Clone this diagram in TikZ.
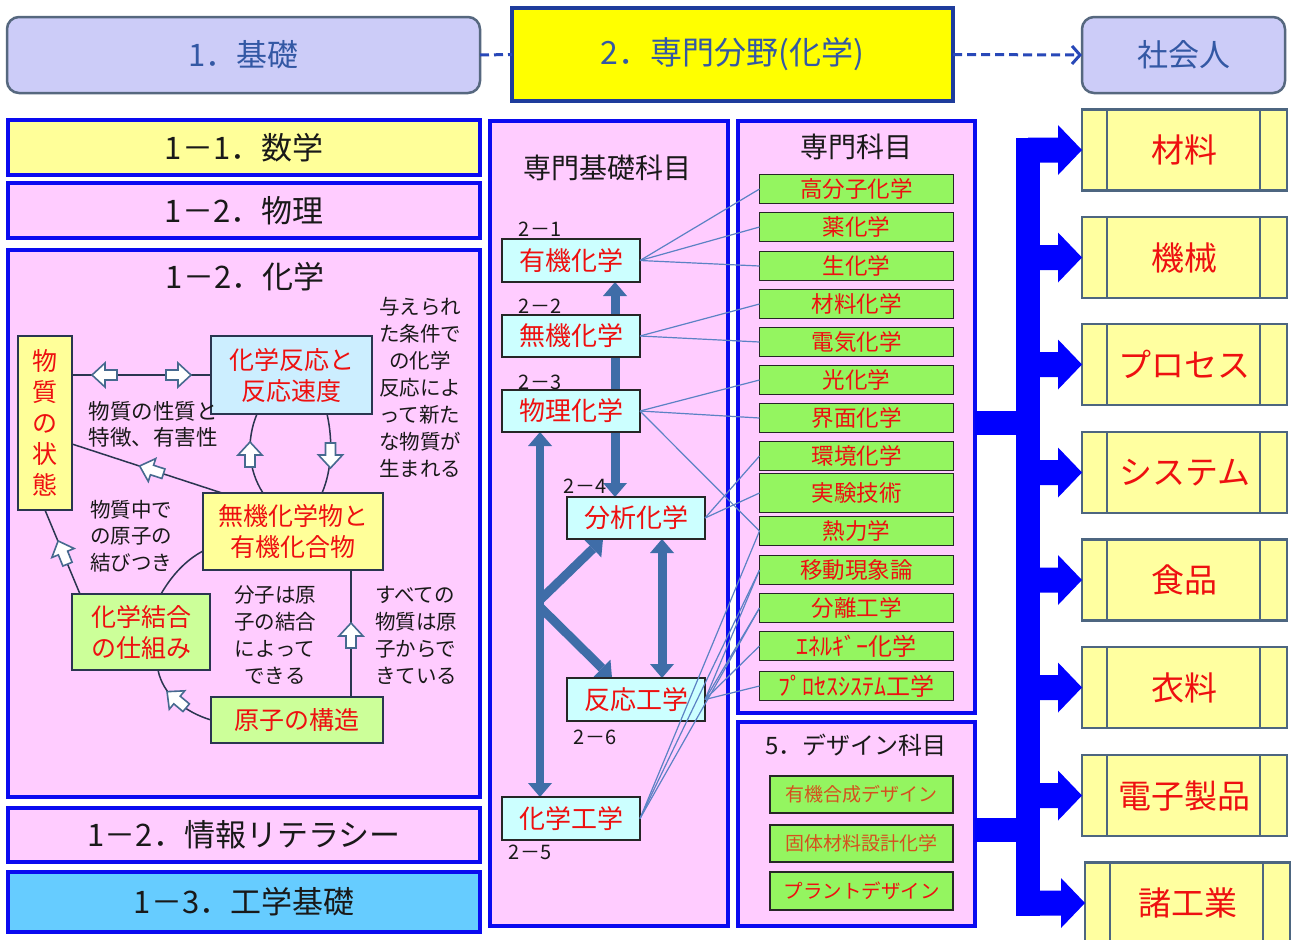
\documentclass[tikz,border=0pt]{standalone}
\usepackage{fontspec}
\setmainfont{Noto Sans CJK JP}
\usetikzlibrary{arrows.meta}
\definecolor{pinkf}{HTML}{FFCCFF}
\definecolor{ylite}{HTML}{FFFF99}
\definecolor{ybright}{HTML}{FFFF00}
\definecolor{lav}{HTML}{CCCCF8}
\definecolor{skyb}{HTML}{66CCFF}
\definecolor{bordb}{HTML}{0A0AF0}
\definecolor{navyb}{HTML}{1E3C9C}
\definecolor{hdrtxt}{HTML}{3358A4}
\definecolor{hdrbd}{HTML}{56687F}
\definecolor{cyanf}{HTML}{CCFFFF}
\definecolor{cyanf2}{HTML}{CCEEFF}
\definecolor{limef}{HTML}{94F560}
\definecolor{palegreen}{HTML}{CCFF99}
\definecolor{steel}{HTML}{3F6DA8}
\definecolor{thinl}{HTML}{5B82C4}
\definecolor{txtred}{HTML}{EE1010}
\definecolor{darkbd}{HTML}{2A3550}
\definecolor{arrbd}{HTML}{46698F}
\definecolor{ybd}{HTML}{4D6680}
\definecolor{dredtxt}{HTML}{D5501E}
\definecolor{bigb}{HTML}{0000FF}
\definecolor{dashb}{HTML}{2848B8}
\definecolor{ytile}{HTML}{FFFFA0}
\newcommand{\fsz}[2]{\fontsize{#1}{#2}\selectfont}
\pgfdeclarelayer{back}
\pgfdeclarelayer{mid}
\pgfsetlayers{back,mid,main}
\tikzset{
  barr/.pic={\draw[line width=1.6pt, draw=arrbd, fill=white, line join=miter]
     (-12,-5) -- (0,-5) -- (0,-12) -- (13,0) -- (0,12) -- (0,5) -- (-12,5) -- cycle;},
  bigarrow/.pic={\fill[bigb] (-54,-12.5) -- (-24,-12.5) -- (-24,-25) -- (0,0)
     -- (-24,25) -- (-24,12.5) -- (-54,12.5) -- cycle;}
}
\begin{document}
\begin{tikzpicture}[x=1pt,y=-1pt,
  every node/.style={inner sep=0pt, outer sep=0pt},
  sz/.style 2 args={minimum width=#1, minimum height=#2},
  hdr/.style={draw=hdrbd, line width=2.5pt, fill=lav, rounded corners=12pt, text=hdrtxt, font=\fsz{31}{34}},
  bluebox/.style={draw=bordb, line width=4pt, font=\fsz{31}{34}, text=black!90},
  chbox/.style={draw=darkbd, line width=1.5pt, text=txtred, font=\fsz{25}{31}, align=center},
  note/.style={font=\fsz{20.5}{27}, text=black!90},
  cybox/.style={draw=black!85, line width=1.5pt, fill=cyanf, text=txtred, font=\fsz{26}{30}, sz={138}{43}},
  lbl/.style={font=\fsz{20}{22}, text=black!90},
  gbox/.style={draw=black!85, line width=1.8pt, fill=limef, text=txtred, font=\fsz{22.5}{24}},
  ybox/.style={draw=ybd, line width=2.5pt, fill=ytile, text=txtred, font=\fsz{33}{36}, sz={205}{81}},
  chl/.style={draw=darkbd, line width=1.5pt},
  dashln/.style={draw=dashb, line width=3pt, dash pattern=on 9pt off 5pt},
  tarr/.style={draw=steel, line width=9pt},
  dbl/.style={{Triangle[length=14pt,width=24pt,line width=0pt]}-{Triangle[length=14pt,width=24pt,line width=0pt]}},
  sgl/.style={-{Triangle[length=14pt,width=24pt,line width=0pt]}},
  thinln/.style={draw=thinl, line width=1.2pt}
]
\useasboundingbox (0,0) rectangle (1291,940);

\begin{pgfonlayer}{back}
\fill[white] (0,0) rectangle (1291,940);
\node[bluebox, fill=pinkf, sz={472}{547}] (kagaku) at (244,523.5) {};
\node[bluebox, fill=pinkf, sz={238}{805}] (kb) at (609,523.5) {};
\node[bluebox, fill=pinkf, sz={237}{592}] (sm) at (856.5,417) {};
\node[bluebox, fill=pinkf, sz={237}{204}] (dz) at (856.5,824) {};
\end{pgfonlayer}

% ---------- top row ----------
\node[hdr, sz={473}{76}] (kiso) at (243.5,55) {1．基礎};
\node[draw=navyb, line width=4pt, fill=ybright, sz={441}{93}, text=hdrtxt, font=\fsz{32}{34}] (sen) at (732.5,54.5) {2．専門分野(化学)};
\node[hdr, sz={203}{76}] (shakai) at (1183.5,55) {社会人};
\draw[dashln] (kiso.east) -- (sen.west);
\draw[dashln, -{Straight Barb[length=8pt,width=18pt]}] (sen.east) -- (shakai.west);

% ---------- left column ----------
\node[bluebox, fill=ylite, sz={472}{55}] (sugaku) at (244,147.5) {1－1．数学};
\node[bluebox, fill=pinkf, sz={472}{55}] (butsuri) at (244,210.5) {1－2．物理};
\node[font=\fsz{31}{34}, text=black!90] (kagakut) at (245,277) {1－2．化学};
\node[bluebox, fill=pinkf, sz={472}{54}] (joho) at (244,835) {1－2．情報リテラシー};
\node[bluebox, fill=skyb, sz={472}{60}] (kogaku) at (244,902) {1－3．工学基礎};

% chemistry boxes
\node[chbox, fill=ylite, sz={54}{174}] (jotai) at (45,423) {物\\質\\の\\状\\態};
\node[chbox, fill=cyanf2, sz={161}{78}] (hanno) at (291.5,375) {化学反応と\\反応速度};
\node[chbox, fill=ylite, sz={180}{77}] (muki) at (293,531.5) {無機化学物と\\有機化合物};
\node[chbox, fill=palegreen, sz={138}{76}] (ketsu) at (141,632) {化学結合\\の仕組み};
\node[chbox, fill=palegreen, sz={172}{46}] (genshi) at (297,720) {原子の構造};

% chemistry notes
\node[note, font=\fsz{21.5}{26}, align=left] (t1) at (153,424) {物質の性質と\\特徴、有害性};
\node[note, align=center] (t2) at (420,387) {与えられ\\た条件で\\の化学\\反応によ\\って新た\\な物質が\\生まれる};
\node[note, font=\fsz{20.5}{26.5}, align=left] (t3) at (131,536) {物質中で\\の原子の\\結びつき};
\node[note, align=center] (t4) at (275,635) {分子は原\\子の結合\\によって\\できる};
\node[note, align=left] (t5) at (416,635) {すべての\\物質は原\\子からで\\きている};

% chemistry connectors
\draw[chl] (jotai.east |- hanno.west) -- (hanno.west);
\pic[rotate=180] at (105,375) {barr};
\pic at (178,375) {barr};
\draw[chl] ([yshift=-21pt]jotai.east) -- ([xshift=-71pt]muki.north);
\pic[rotate=162] at (152,470) {barr};
\draw[chl] (jotai.south) -- ([xshift=-61pt]ketsu.north);
\pic[rotate=112] at (63,553) {barr};
\draw[chl] ([xshift=-34.5pt]hanno.south) .. controls (246,440) and (248,470) .. ([xshift=-30pt]muki.north);
\pic[rotate=90] at (250,455) {barr};
\draw[chl] ([xshift=35.5pt]hanno.south) .. controls (333,440) and (332,470) .. ([xshift=29pt]muki.north);
\pic[rotate=-90] at (330.5,455) {barr};
\draw[chl] ([xshift=20pt]ketsu.north) .. controls (172,575) and (186,560) .. ([yshift=-19.5pt]muki.west);
\draw[chl] ([xshift=54pt]genshi.north) -- ([xshift=54pt]genshi.north |- muki.south);
\pic[rotate=90] at (351,636) {barr};
\draw[chl] (genshi.west) .. controls (185,712) and (163,695) .. ([xshift=17pt]ketsu.south);
\pic[rotate=140] at (177,700) {barr};

% ---------- middle column ----------
\node[font=\fsz{28}{32}, text=black!90] (kbt) at (607,168) {専門基礎科目};
\node[cybox] (yuki) at (571,260.5) {有機化学};
\node[cybox, sz={138}{42}] (mukika) at (571,336) {無機化学};
\node[cybox, sz={138}{42}] (butsuka) at (571,411) {物理化学};
\node[cybox, sz={138}{42}] (bunseki) at (636,518) {分析化学};
\node[cybox] (hannoko) at (636,699.5) {反応工学};
\node[cybox] (kako) at (571,818.5) {化学工学};
\node[lbl] (l1) at (540,229) {2－1};
\node[lbl] (l2) at (540,306) {2－2};
\node[lbl] (l3) at (540,382) {2－3};
\node[lbl] (l4) at (585,486) {2－4};
\node[lbl] (l6) at (595,737) {2－6};
\node[lbl] (l5) at (530,852) {2－5};

\coordinate (forka) at (540,600);
\coordinate (forkb) at (540,607);
\begin{pgfonlayer}{mid}
\draw[tarr, dbl] ([xshift=44pt]yuki.south) -- ([xshift=-21pt]bunseki.north);
\draw[tarr, dbl, line width=8pt] ([xshift=-31pt]butsuka.south) -- ([xshift=-31pt]kako.north);
\draw[tarr, sgl] (forka) -- ([xshift=-33pt]bunseki.south);
\draw[tarr, sgl] (forkb) -- ([xshift=-24pt]hannoko.north);
\draw[tarr, dbl] ([xshift=26pt]bunseki.south) -- ([xshift=26pt]hannoko.north);
\end{pgfonlayer}

% ---------- specialist subjects ----------
\node[font=\fsz{28}{32}, text=black!90] (smt) at (856,147) {専門科目};
\foreach \n/\y/\h/\t in {g1/189/29/高分子化学, g2/227/29/薬化学, g3/266/29/生化学,
   g4/304/29/材料化学, g5/342/29/電気化学, g6/380/29/光化学, g7/418/29/界面化学,
   g8/456/29/環境化学, g9/493/39/実験技術, g10/531/29/熱力学, g11/570/29/移動現象論,
   g12/608/29/分離工学}
   {\node[gbox, sz={194}{\h}] (\n) at (856.5,\y) {\t};}
\node[gbox, sz={194}{29}, font=\fsz{24}{26}] (g13) at (856.5,646) {ｴﾈﾙｷﾞｰ化学};
\node[gbox, sz={194}{29}, font=\fsz{24}{26}] (g14) at (856.5,686) {ﾌﾟﾛｾｽｼｽﾃﾑ工学};

\foreach \s/\e in {yuki/g1, yuki/g2, yuki/g3, mukika/g4, mukika/g5,
   butsuka/g6, butsuka/g7, butsuka/g10, bunseki/g8, bunseki/g9,
   hannoko/g11, hannoko/g12, hannoko/g13, hannoko/g14,
   kako/g10, kako/g11, kako/g12}
   {\draw[thinln] (\s.east) -- (\e.west);}

% ---------- design subjects ----------
\node[font=\fsz{24}{28}, text=black!90] (dzt) at (856,745) {5．デザイン科目};
\node[gbox, sz={183}{37}, text=dredtxt, font=\fsz{19}{22}] (d1) at (861.5,794.5) {有機合成デザイン};
\node[gbox, sz={183}{37}, text=dredtxt, font=\fsz{19}{22}] (d2) at (861.5,843.5) {固体材料設計化学};
\node[gbox, sz={183}{38}, font=\fsz{19.5}{22}] (d3) at (861.5,891) {プラントデザイン};

% ---------- society ----------
\node[fill=bigb, sz={24}{778}] (bar) at (1028,526.5) {};
\draw[draw=bigb, line width=24pt] ([yshift=-6pt]sm.east) -- ([yshift=-6pt]sm.east -| bar.center);
\draw[draw=bigb, line width=24pt] ([yshift=-6pt]dz.east) -- ([yshift=-6pt]dz.east -| bar.center);

\foreach \n/\x/\y/\t in {zai/1184.5/150/材料, kikai/1184.5/257.5/機械, pro/1184.5/364.5/プロセス,
   sys/1184.5/472.5/システム, shoku/1184.5/580/食品, iryo/1184.5/687.5/衣料,
   denshi/1184.5/795.5/電子製品, sho/1187.5/903/諸工業}
   {\node[ybox] (\n) at (\x,\y) {\t};
    \draw[draw=ybd, line width=2.5pt] ([xshift=25pt]\n.north west) -- ([xshift=25pt]\n.south west);
    \draw[draw=ybd, line width=2.5pt] ([xshift=-27pt]\n.north east) -- ([xshift=-27pt]\n.south east);
    \pic at (\n.west) {bigarrow};}
\end{tikzpicture}
\end{document}
